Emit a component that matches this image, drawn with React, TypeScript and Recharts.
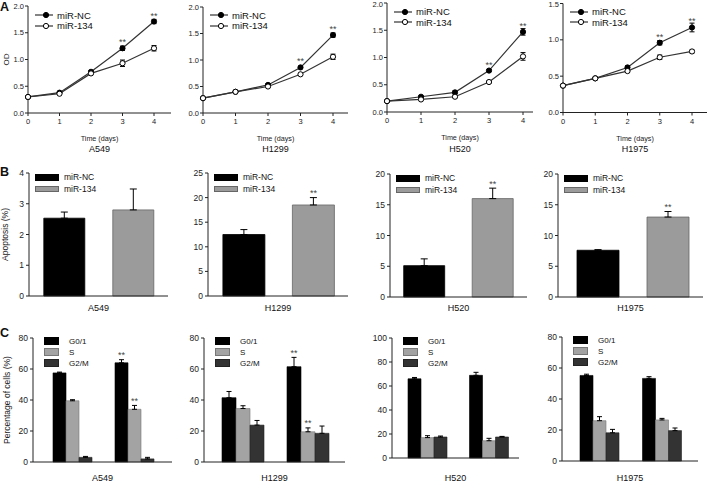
import React from "react";
import {
  Bar,
  BarChart,
  Cell,
  ErrorBar,
  LabelList,
  Legend,
  Line,
  LineChart,
  XAxis,
  YAxis,
} from "recharts";

const FONT = '"Liberation Sans", Arial, sans-serif';

const cellLines = ["A549", "H1299", "H520", "H1975"];
const groups = ["miR-NC", "miR-134"];
const phases = ["G0/1", "S", "G2/M"];
const days = [0, 1, 2, 3, 4];

// A: proliferation (OD)
const odNC = [
  [0.3, 0.38, 0.77, 1.21, 1.71],
  [0.28, 0.4, 0.53, 0.86, 1.47],
  [0.2, 0.28, 0.36, 0.76, 1.47],
  [0.37, 0.47, 0.62, 0.96, 1.17],
];
const odNCErr = [
  [0.01, 0.02, 0.02, 0.04, 0.04],
  [0.01, 0.01, 0.02, 0.02, 0.04],
  [0.01, 0.02, 0.03, 0.02, 0.06],
  [0.01, 0.01, 0.02, 0.03, 0.06],
];
const od134 = [
  [0.3, 0.36, 0.74, 0.93, 1.21],
  [0.28, 0.4, 0.5, 0.73, 1.06],
  [0.2, 0.23, 0.28, 0.55, 1.02],
  [0.37, 0.47, 0.57, 0.76, 0.84],
];
const od134Err = [
  [0.01, 0.02, 0.02, 0.06, 0.05],
  [0.01, 0.01, 0.02, 0.02, 0.05],
  [0.01, 0.02, 0.02, 0.02, 0.07],
  [0.01, 0.01, 0.02, 0.03, 0.02],
];
const odStars = ["", "", "", "**", "**"];
const odTicks = [
  [0, 0.5, 1, 1.5, 2],
  [0, 0.5, 1, 1.5, 2],
  [0, 0.5, 1, 1.5, 2],
  [0, 0.5, 1, 1.5],
];

// B: apoptosis (%)
const apopNC = [2.53, 12.5, 5.1, 7.6];
const apopNCErr = [0.2, 1.0, 1.1, 0.1];
const apop134 = [2.8, 18.5, 16.0, 13.0];
const apop134Err = [0.68, 1.5, 1.7, 0.9];
const apopStars = ["", "**", "**", "**"];
const apopTicks = [
  [0, 1, 2, 3, 4],
  [0, 5, 10, 15, 20, 25],
  [0, 5, 10, 15, 20],
  [0, 5, 10, 15, 20],
];

// C: cell cycle (%), order G0/1, S, G2/M
const cycleNC = [
  [57.5, 39.5, 3],
  [41.5, 34.5, 23.8],
  [66, 17, 17.5],
  [55.2, 26, 18.2],
];
const cycleNCErr = [
  [0.5, 0.7, 0.6],
  [4, 1.8, 3],
  [1.1, 1.6, 0.8],
  [0.8, 2.6, 2.2],
];
const cycle134 = [
  [64, 34, 2],
  [61.5, 19.5, 18.5],
  [68.9, 14.4, 17.5],
  [53.3, 26.5, 19.6],
];
const cycle134Err = [
  [2, 2.5, 1],
  [6, 2.5, 4.7],
  [2.5, 2, 0.5],
  [1.1, 1, 1.7],
];
const cycleStars134 = [
  ["**", "**", ""],
  ["**", "**", ""],
  ["", "", ""],
  ["", "", ""],
];
const cycleTicks = [
  [0, 20, 40, 60, 80],
  [0, 20, 40, 60, 80],
  [0, 20, 40, 60, 80, 100],
  [0, 20, 40, 60, 80],
];

// page layout (pixel boxes of each plot area)
const colLeft = [0, 180, 360, 540];
const growthLayout = [
  { l: 28, t: 6, b: 113, r: 171, x4: 154, legTop: 10 },
  { l: 203, t: 7, b: 113, r: 348, x4: 333, legTop: 10 },
  { l: 387, t: 3, b: 112, r: 533, x4: 523, legTop: 6.5 },
  { l: 563, t: 3.5, b: 112.5, r: 707, x4: 692, legTop: 6.5 },
];
const apopLayout = [
  { l: 29, t: 173, b: 296, r: 168, padL: 1, padR: 0 },
  { l: 208, t: 173, b: 296, r: 348, padL: 1, padR: 0 },
  { l: 390, t: 174, b: 297, r: 527, padL: 0, padR: 0 },
  { l: 558, t: 174, b: 297, r: 703, padL: 5, padR: 0 },
];
const cycleLayout = [
  { l: 33, t: 338, b: 462, r: 172, padL: 8, padR: 7 },
  { l: 204, t: 338, b: 462, r: 345, padL: 6, padR: 5 },
  { l: 392, t: 338, b: 458, r: 519, padL: 4, padR: 0 },
  { l: 562, t: 337, b: 461, r: 698, padL: 6, padR: 5 },
];

const apopFill = ["#000000", "#9b9b9b"];
const apopStroke = ["#000000", "#666666"];
const phaseFill = ["#000000", "#a3a3a3", "#333333"];
const phaseStroke = ["#000000", "#777777", "#222222"];

const axisColor = "#222";

const lineStar = (p: any) => {
  if (!p.value) return null;
  const vb = p.viewBox ?? p;
  return (
    <text x={vb.x} y={vb.y - 3} textAnchor="middle" fontSize={9} fill="#444">
      {p.value}
    </text>
  );
};

const barStar =
  (rows: any[], valKey: string, errKey: string, starKey: string) =>
  (p: any) => {
    const row = rows[p.index];
    if (!row || !row[starKey]) return null;
    const vb = p.viewBox ?? p;
    const top = vb.y - (row[errKey] * vb.height) / row[valKey];
    return (
      <text
        x={vb.x + vb.width / 2}
        y={top - 1.5}
        textAnchor="middle"
        fontSize={9}
        fill="#444"
      >
        {row[starKey]}
      </text>
    );
  };

const lineLegend = () => (
  <div style={{ fontSize: 9.5, color: "#111", fontFamily: FONT }}>
    {groups.map((g, k) => (
      <div
        key={g}
        style={{ display: "flex", alignItems: "center", height: 10.5 }}
      >
        <svg width={18} height={8}>
          <line x1={0} y1={4} x2={18} y2={4} stroke="#333" strokeWidth={1.2} />
          <circle
            cx={11}
            cy={4}
            r={2.6}
            fill={k === 0 ? "#000" : "#fff"}
            stroke="#000"
          />
        </svg>
        <span style={{ marginLeft: 4 }}>{g}</span>
      </div>
    ))}
  </div>
);

const apopLegend = () => (
  <div style={{ fontSize: 8.5, color: "#111", fontFamily: FONT }}>
    {groups.map((g, k) => (
      <div
        key={g}
        style={{ display: "flex", alignItems: "center", height: 11.5 }}
      >
        <div
          style={{
            width: 22,
            height: 4.5,
            background: apopFill[k],
            border: `0.5px solid ${apopStroke[k]}`,
          }}
        />
        <span style={{ marginLeft: 5 }}>{g}</span>
      </div>
    ))}
  </div>
);

const cycleLegend = () => (
  <div style={{ fontSize: 8, color: "#111", fontFamily: FONT }}>
    {phases.map((ph, k) => (
      <div
        key={ph}
        style={{ display: "flex", alignItems: "center", height: 11 }}
      >
        <div
          style={{
            width: 15,
            height: 8,
            boxSizing: "border-box",
            background: phaseFill[k],
            border: `0.6px solid ${phaseStroke[k]}`,
          }}
        />
        <span style={{ marginLeft: 10 }}>{ph}</span>
      </div>
    ))}
  </div>
);

function CellName({ name, cx, top }: { name: string; cx: number; top: number }) {
  return (
    <div
      style={{
        position: "absolute",
        left: cx - 40,
        top,
        width: 80,
        textAlign: "center",
        fontSize: 9,
        lineHeight: "9px",
        color: "#111",
      }}
    >
      {name}
    </div>
  );
}

function PanelLetter({ letter, top }: { letter: string; top: number }) {
  return (
    <div
      style={{
        position: "absolute",
        left: 0,
        top,
        fontSize: 12.5,
        lineHeight: "12.5px",
        fontWeight: "bold",
      }}
    >
      {letter}
    </div>
  );
}

function GrowthPanel({ i }: { i: number }) {
  const p = growthLayout[i];
  const x0 = colLeft[i];
  const rows = days.map((d, k) => ({
    day: d,
    nc: odNC[i][k],
    ncErr: odNCErr[i][k],
    mir: od134[i][k],
    mirErr: od134Err[i][k],
    star: odStars[k],
  }));
  const ticks = odTicks[i];
  const xMax = (4 * (p.r - p.l)) / (p.x4 - p.l);
  return (
    <>
      <div style={{ position: "absolute", left: x0, top: 0 }}>
        <LineChart
          width={p.r - x0 + 2}
          height={p.b + 32}
          data={rows}
          margin={{ top: p.t, right: 2, bottom: 0, left: 0 }}
        >
          <XAxis
            type="number"
            dataKey="day"
            domain={[0, xMax]}
            ticks={days}
            height={32}
            tickSize={3}
            tickMargin={3}
            stroke={axisColor}
            tick={{ fontSize: 7.5, fill: "#222" }}
            label={{
              value: "Time (days)",
              position: "insideBottom",
              offset: 4,
              fontSize: 7.2,
              fill: "#222",
            }}
          />
          <YAxis
            type="number"
            domain={[0, ticks[ticks.length - 1]]}
            ticks={ticks}
            width={p.l - x0}
            tickSize={3}
            tickMargin={1}
            stroke={axisColor}
            tick={{ fontSize: 7.5, fill: "#222" }}
            tickFormatter={(v: number) => v.toFixed(1)}
            label={
              i === 0
                ? {
                    value: "OD",
                    angle: -90,
                    position: "insideLeft",
                    offset: 6,
                    fontSize: 8,
                    fill: "#222",
                    style: { textAnchor: "middle" },
                  }
                : undefined
            }
          />
          <Legend
            layout="vertical"
            align="center"
            verticalAlign="middle"
            wrapperStyle={{ left: p.l - x0 + 7, top: p.legTop, width: "auto" }}
            content={lineLegend}
          />
          <Line
            dataKey="nc"
            stroke="#333"
            strokeWidth={1.2}
            dot={{ r: 2.6, fill: "#000", stroke: "#000", strokeWidth: 1 }}
            isAnimationActive={false}
          >
            <ErrorBar dataKey="ncErr" width={2.5} stroke="#000" strokeWidth={1} direction="y" />
            <LabelList dataKey="star" content={lineStar} />
          </Line>
          <Line
            dataKey="mir"
            stroke="#333"
            strokeWidth={1.2}
            dot={{ r: 2.6, fill: "#fff", stroke: "#000", strokeWidth: 1 }}
            isAnimationActive={false}
          >
            <ErrorBar dataKey="mirErr" width={2.5} stroke="#000" strokeWidth={1} direction="y" />
          </Line>
        </LineChart>
      </div>
      <CellName name={cellLines[i]} cx={(p.l + p.r) / 2} top={144.6} />
    </>
  );
}

function ApoptosisPanel({ i }: { i: number }) {
  const p = apopLayout[i];
  const x0 = colLeft[i];
  const y0 = 160;
  const rows = [
    { name: groups[0], v: apopNC[i], err: [0, apopNCErr[i]], e: apopNCErr[i], star: "" },
    { name: groups[1], v: apop134[i], err: [0, apop134Err[i]], e: apop134Err[i], star: apopStars[i] },
  ];
  const ticks = apopTicks[i];
  return (
    <>
      <div style={{ position: "absolute", left: x0, top: y0 }}>
        <BarChart
          width={p.r - x0 + 2}
          height={p.b - y0 + 8}
          data={rows}
          margin={{ top: p.t - y0, right: 2, bottom: 0, left: 0 }}
          barCategoryGap="20%"
        >
          <XAxis
            dataKey="name"
            height={8}
            tick={false}
            tickSize={3}
            stroke={axisColor}
            padding={{ left: p.padL, right: p.padR }}
          />
          <YAxis
            type="number"
            domain={[0, ticks[ticks.length - 1]]}
            ticks={ticks}
            width={p.l - x0}
            tickSize={3}
            tickMargin={2}
            stroke={axisColor}
            tick={{ fontSize: 8.5, fill: "#222" }}
            label={
              i === 0
                ? {
                    value: "Apoptosis (%)",
                    angle: -90,
                    position: "insideLeft",
                    offset: 5,
                    fontSize: 8.5,
                    fill: "#222",
                    style: { textAnchor: "middle" },
                  }
                : undefined
            }
          />
          <Legend
            layout="vertical"
            align="center"
            verticalAlign="middle"
            wrapperStyle={{ left: p.l - x0 + 6, top: p.t - y0 - 1.5, width: "auto" }}
            content={apopLegend}
          />
          <Bar dataKey="v" isAnimationActive={false} strokeWidth={0.8}>
            {rows.map((r, k) => (
              <Cell key={r.name} fill={apopFill[k]} stroke={apopStroke[k]} />
            ))}
            <ErrorBar dataKey="err" width={3.5} stroke="#000" strokeWidth={1} direction="y" />
            <LabelList dataKey="star" content={barStar(rows, "v", "e", "star")} />
          </Bar>
        </BarChart>
      </div>
      <CellName name={cellLines[i]} cx={(p.l + p.r) / 2} top={303.6} />
    </>
  );
}

function CyclePanel({ i }: { i: number }) {
  const p = cycleLayout[i];
  const x0 = colLeft[i];
  const y0 = 322;
  const rows = groups.map((g, gi) => {
    const vals = gi === 0 ? cycleNC[i] : cycle134[i];
    const errs = gi === 0 ? cycleNCErr[i] : cycle134Err[i];
    const row: any = { name: g };
    phases.forEach((_, k) => {
      row[`p${k}`] = vals[k];
      row[`e${k}`] = [0, errs[k]];
      row[`d${k}`] = errs[k];
      row[`s${k}`] = gi === 1 ? cycleStars134[i][k] : "";
    });
    return row;
  });
  const ticks = cycleTicks[i];
  return (
    <>
      <div style={{ position: "absolute", left: x0, top: y0 }}>
        <BarChart
          width={p.r - x0 + 2}
          height={p.b - y0 + 8}
          data={rows}
          margin={{ top: p.t - y0, right: 2, bottom: 0, left: 0 }}
          barCategoryGap={12}
          barGap={0}
        >
          <XAxis
            dataKey="name"
            height={8}
            tick={false}
            tickSize={3}
            stroke={axisColor}
            padding={{ left: p.padL, right: p.padR }}
          />
          <YAxis
            type="number"
            domain={[0, ticks[ticks.length - 1]]}
            ticks={ticks}
            width={p.l - x0}
            tickSize={3}
            tickMargin={2}
            stroke={axisColor}
            tick={{ fontSize: 8.5, fill: "#222" }}
            label={
              i === 0
                ? {
                    value: "Percentage of cells (%)",
                    angle: -90,
                    position: "insideLeft",
                    offset: 6.5,
                    fontSize: 8.5,
                    fill: "#222",
                    style: { textAnchor: "middle" },
                  }
                : undefined
            }
          />
          <Legend
            layout="vertical"
            align="center"
            verticalAlign="middle"
            wrapperStyle={{ left: p.l - x0 + 11, top: p.t - y0 - 2.5, width: "auto" }}
            content={cycleLegend}
          />
          {phases.map((ph, k) => (
            <Bar
              key={ph}
              dataKey={`p${k}`}
              name={ph}
              fill={phaseFill[k]}
              stroke={phaseStroke[k]}
              strokeWidth={0.6}
              isAnimationActive={false}
            >
              <ErrorBar dataKey={`e${k}`} width={2.5} stroke="#000" strokeWidth={1} direction="y" />
              <LabelList dataKey={`s${k}`} content={barStar(rows, `p${k}`, `d${k}`, `s${k}`)} />
            </Bar>
          ))}
        </BarChart>
      </div>
      <CellName name={cellLines[i]} cx={(p.l + p.r) / 2} top={473.6} />
    </>
  );
}

export default function App() {
  return (
    <div
      style={{
        position: "absolute",
        left: 0,
        top: 0,
        width: 709,
        height: 482,
        background: "#fff",
        fontFamily: FONT,
        color: "#111",
        overflow: "hidden",
      }}
    >
      {cellLines.map((c, i) => (
        <GrowthPanel key={`a-${c}`} i={i} />
      ))}
      {cellLines.map((c, i) => (
        <ApoptosisPanel key={`b-${c}`} i={i} />
      ))}
      {cellLines.map((c, i) => (
        <CyclePanel key={`c-${c}`} i={i} />
      ))}
      <PanelLetter letter="A" top={1.4} />
      <PanelLetter letter="B" top={166.4} />
      <PanelLetter letter="C" top={327.4} />
    </div>
  );
}
